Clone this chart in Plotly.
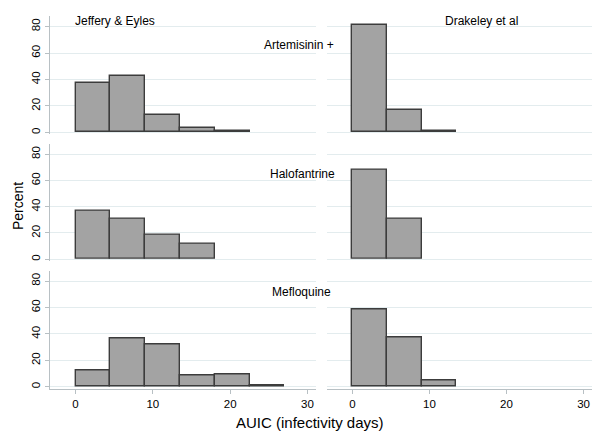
import plotly.graph_objects as go

# histogram bins (AUIC, infectivity days), width 4.5
bin_edges = [0, 4.5, 9, 13.5, 18, 22.5, 27]
bin_width = 4.5

studies = ["Jeffery & Eyles", "Drakeley et al"]
drugs = ["Artemisinin +", "Halofantrine", "Mefloquine"]

# percent per bin, by drug (row) and study (column)
art_jeffery = [37.7, 42.5, 13.1, 3.6, 1.3]
art_drakeley = [81.5, 16.9, 1.3]
halo_jeffery = [37.0, 30.8, 18.9, 11.8]
halo_drakeley = [68.0, 31.0]
meflo_jeffery = [12.1, 36.9, 32.3, 8.3, 9.6, 1.0]
meflo_drakeley = [58.6, 37.0, 5.0]

values = [
    [art_jeffery, art_drakeley],
    [halo_jeffery, halo_drakeley],
    [meflo_jeffery, meflo_drakeley],
]

x_ticks = [0, 10, 20, 30]
y_ticks = [0, 20, 40, 60, 80]

FONT = "Liberation Sans, Arial, sans-serif"
# the page body has an 8px margin, so the figure is drawn a bit smaller
# and every position below is given in window pixels
OFF = 8
W, H = 600 - 2 * OFF, 439 - 2 * OFF
col_px = [(50, 316), (327, 593)]
row_px = [(16, 134.3), (143.8, 261), (270.5, 388.7)]


def px_x(v):
    return (v - OFF) / W


def px_y(v):
    return 1 - (v - OFF) / H


fig = go.Figure()

n = 0
for r in range(3):
    for c in range(2):
        n += 1
        sfx = "" if n == 1 else str(n)
        vals = values[r][c]
        centers = [e + bin_width / 2 for e in bin_edges[: len(vals)]]
        fig.add_trace(
            go.Bar(
                x=centers,
                y=vals,
                width=bin_width,
                marker=dict(color="#a3a3a3", line=dict(color="#3c3c3c", width=1.4)),
                xaxis="x" + sfx,
                yaxis="y" + sfx,
                showlegend=False,
                hoverinfo="skip",
            )
        )
        x0, x1 = col_px[c]
        y0, y1 = row_px[r]
        bottom = r == 2
        fig.layout["xaxis" + sfx] = dict(
            domain=[px_x(x0), min(px_x(x1), 1)],
            anchor="y" + sfx,
            range=[-3.3, 31.1],
            tickvals=x_ticks,
            showticklabels=bottom,
            ticks="outside" if bottom else "",
            ticklen=4,
            tickcolor="#b8c0c4",
            showline=bottom,
            linecolor="#b8c0c4",
            linewidth=1,
            showgrid=False,
            zeroline=False,
            tickfont=dict(family=FONT, size=11.5, color="#000"),
        )
        left = c == 0
        fig.layout["yaxis" + sfx] = dict(
            domain=[px_y(y1), px_y(y0)],
            anchor="x" + sfx,
            range=[-1.4, 88],
            tickvals=y_ticks,
            showticklabels=left,
            tickangle=-90,
            ticks="outside" if left else "",
            ticklen=4,
            tickcolor="#b8c0c4",
            showline=left,
            linecolor="#b8c0c4",
            linewidth=1,
            showgrid=True,
            gridcolor="#e3ecee",
            gridwidth=1,
            zeroline=False,
            tickfont=dict(family=FONT, size=11.5, color="#000"),
        )

annotations = [
    dict(text=studies[0], x=px_x(115), y=px_y(21)),
    dict(text=studies[1], x=px_x(481), y=px_y(21)),
    dict(text=drugs[0], x=px_x(299), y=px_y(45)),
    dict(text=drugs[1], x=px_x(302), y=px_y(174)),
    dict(text=drugs[2], x=px_x(301), y=px_y(292)),
]
for a in annotations:
    a.update(font=dict(family=FONT, size=12, color="#000"))

annotations.append(dict(text="Percent", x=px_x(18), y=px_y(206), textangle=-90,
                        font=dict(family=FONT, size=14, color="#000")))
annotations.append(dict(text="AUIC (infectivity days)", x=px_x(310), y=px_y(422),
                        font=dict(family=FONT, size=15, color="#000")))
for a in annotations:
    a.update(xref="paper", yref="paper", showarrow=False,
             xanchor="center", yanchor="middle")

fig.update_layout(
    width=W,
    height=H,
    margin=dict(l=0, r=0, t=0, b=0),
    paper_bgcolor="white",
    plot_bgcolor="white",
    bargap=0,
    annotations=annotations,
)

fig.write_html("out.html")
